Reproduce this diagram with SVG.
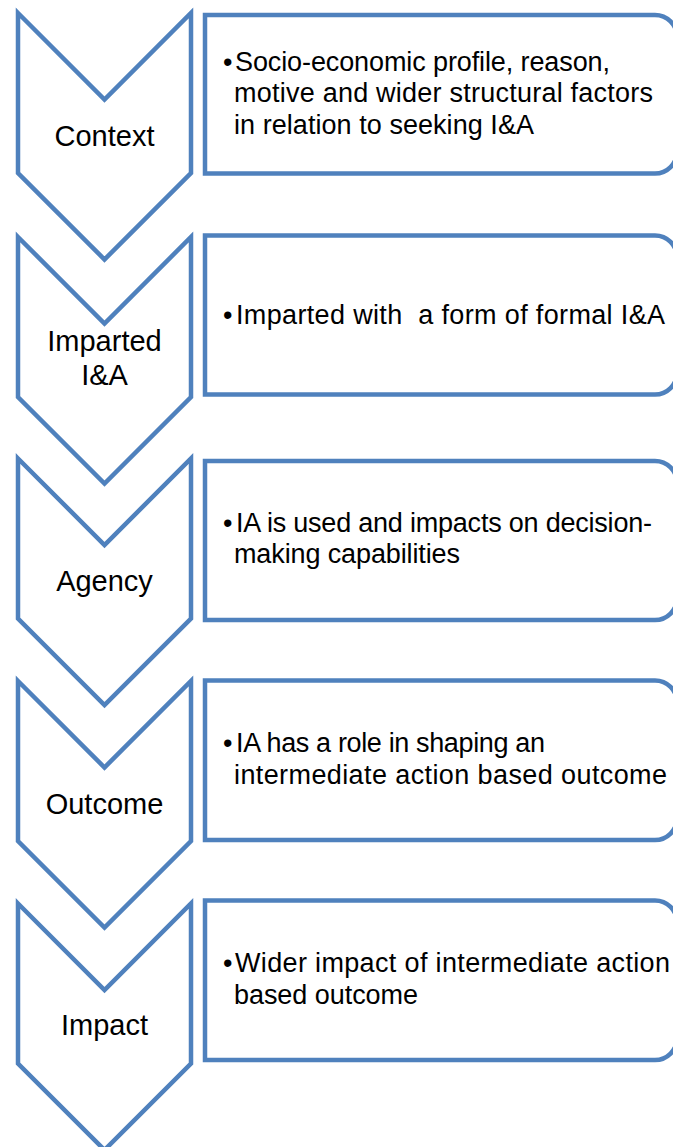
<svg xmlns="http://www.w3.org/2000/svg" width="673" height="1147" viewBox="0 0 673 1147">
<style>
.sh{fill:#fff;stroke:#4F81BD;stroke-width:4.5;stroke-linejoin:miter}
.lab{font-family:"Liberation Sans",Arial,sans-serif;font-size:29px;fill:#000;text-anchor:middle}
.bt{font-family:"Liberation Sans",Arial,sans-serif;font-size:27px;fill:#000}
</style>
<rect width="673" height="1147" fill="#fff"/>
<g id="connectors"></g>
<g id="chevron-context">
<path class="sh" d="M18,13 L104.5,99.5 L191,13 L191,173 L104.5,259.5 L18,173 Z"/>
<text class="lab" x="104.5" y="145.5">Context</text>
</g>
<g id="box-context">
<path class="sh" d="M205,15 H655 A22,22 0 0 1 677,37 V151.5 A22,22 0 0 1 655,173.5 H205 Z"/>
<text class="bt" x="223" y="70.5">•</text>
<text class="bt" x="235" y="70.5" textLength="375" lengthAdjust="spacing">Socio-economic profile, reason,</text>
<text class="bt" x="234" y="102" textLength="419" lengthAdjust="spacing">motive and wider structural factors</text>
<text class="bt" x="234" y="133.5" textLength="300" lengthAdjust="spacing">in relation to seeking I&amp;A</text>
</g>
<g id="chevron-imparted">
<path class="sh" d="M18,237 L104.5,323.5 L191,237 L191,397 L104.5,483.5 L18,397 Z"/>
<text class="lab" x="104.5" y="350.5">Imparted</text>
<text class="lab" x="104.5" y="385">I&amp;A</text>
</g>
<g id="box-imparted">
<path class="sh" d="M205,235.5 H655 A22,22 0 0 1 677,257.5 V372.5 A22,22 0 0 1 655,394.5 H205 Z"/>
<text class="bt" x="223" y="323.5">•</text>
<text class="bt" x="236" y="323.5" textLength="429" lengthAdjust="spacing" xml:space="preserve">Imparted with  a form of formal I&amp;A</text>
</g>
<g id="chevron-agency">
<path class="sh" d="M18,458.5 L104.5,545 L191,458.5 L191,618.5 L104.5,705 L18,618.5 Z"/>
<text class="lab" x="104.5" y="590.5">Agency</text>
</g>
<g id="box-agency">
<path class="sh" d="M205,461 H655 A22,22 0 0 1 677,483 V598 A22,22 0 0 1 655,620 H205 Z"/>
<text class="bt" x="223" y="531.5">•</text>
<text class="bt" x="236" y="531.5" textLength="416" lengthAdjust="spacing">IA is used and impacts on decision-</text>
<text class="bt" x="234" y="563" textLength="226" lengthAdjust="spacing">making capabilities</text>
</g>
<g id="chevron-outcome">
<path class="sh" d="M18,681 L104.5,767.5 L191,681 L191,841 L104.5,927.5 L18,841 Z"/>
<text class="lab" x="104.5" y="813.5">Outcome</text>
</g>
<g id="box-outcome">
<path class="sh" d="M205,680.5 H655 A22,22 0 0 1 677,702.5 V818 A22,22 0 0 1 655,840 H205 Z"/>
<text class="bt" x="223" y="752">•</text>
<text class="bt" x="236" y="752" textLength="309" lengthAdjust="spacing">IA has a role in shaping an</text>
<text class="bt" x="234" y="783.5" textLength="433" lengthAdjust="spacing">intermediate action based outcome</text>
</g>
<g id="chevron-impact">
<path class="sh" d="M18,903.5 L104.5,990 L191,903.5 L191,1063.5 L104.5,1150 L18,1063.5 Z"/>
<text class="lab" x="104.5" y="1035">Impact</text>
</g>
<g id="box-impact">
<path class="sh" d="M205,900.5 H655 A22,22 0 0 1 677,922.5 V1038 A22,22 0 0 1 655,1060 H205 Z"/>
<text class="bt" x="223" y="972">•</text>
<text class="bt" x="235" y="972" textLength="435" lengthAdjust="spacing">Wider impact of intermediate action</text>
<text class="bt" x="234" y="1003.5" textLength="184" lengthAdjust="spacing">based outcome</text>
</g>
</svg>
